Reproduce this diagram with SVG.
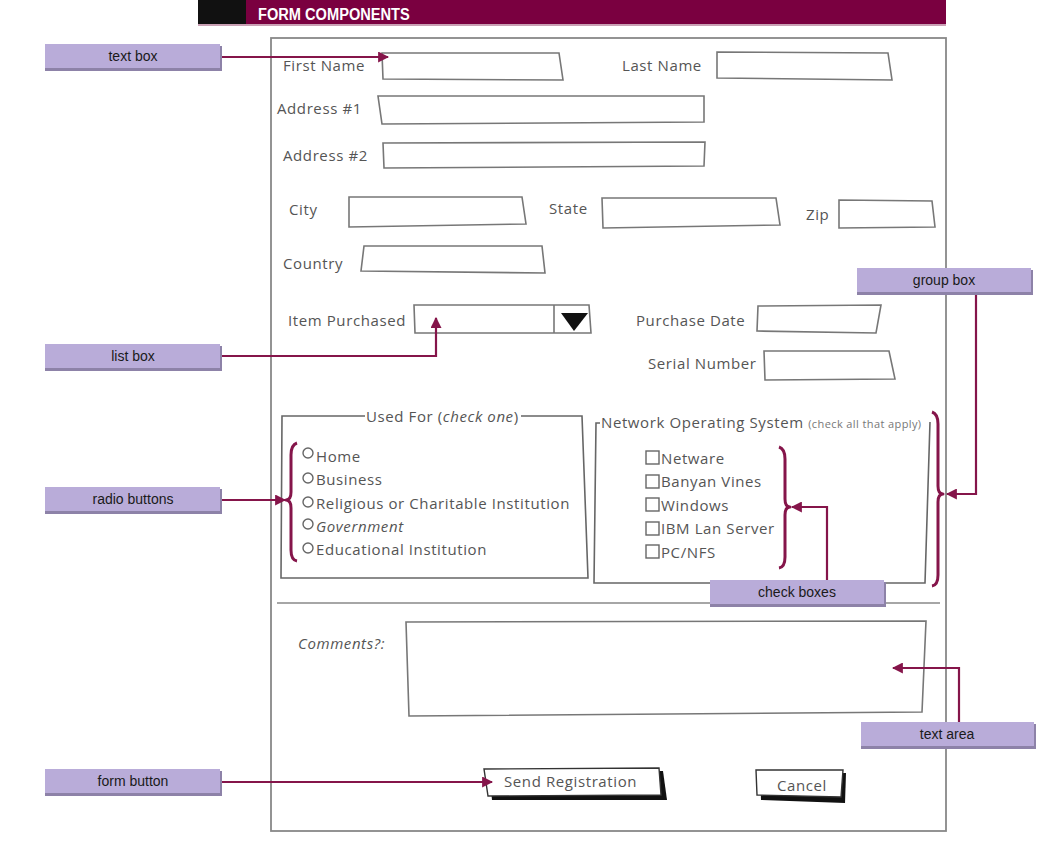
<svg xmlns="http://www.w3.org/2000/svg" width="1047" height="841" viewBox="0 0 1047 841">
<style>
.lbl{font-family:"Liberation Sans",Arial,sans-serif;font-size:14px;fill:#1a1a1a;text-anchor:middle;}
.tag{fill:#b9acd9;}
.tagsh{fill:#8d82a8;}
.ft{font-family:"Open Sans","DejaVu Sans",sans-serif;font-size:15px;letter-spacing:0.6px;fill:#555;}
.fs{font-family:"Open Sans","DejaVu Sans",sans-serif;font-size:11px;letter-spacing:0.4px;fill:#777;}
.inp{fill:#fff;stroke:#777;stroke-width:1.6;}
.con{fill:none;stroke:#85154a;stroke-width:2.2;}
.brace{fill:none;stroke:#85154a;stroke-width:3;stroke-linejoin:round;}
.grp{fill:none;stroke:#666;stroke-width:1.6;}
</style>
<defs>
<marker id="ah" viewBox="0 0 10 10" refX="9" refY="5" markerWidth="5" markerHeight="5" orient="auto" markerUnits="strokeWidth">
<path d="M0,0 L10,5 L0,10 z" fill="#85154a"/>
</marker>
</defs>
<rect width="1047" height="841" fill="#fff"/>
<g id="header">
<rect x="198" y="0" width="48" height="25" fill="#111"/>
<rect x="246" y="0" width="700" height="25" fill="#7a0040"/>
<rect x="198" y="24" width="748" height="2" fill="#c9a0b4"/>
<text x="258" y="20" font-family="Liberation Sans,Arial,sans-serif" font-weight="bold" font-size="17" fill="#fff" transform="translate(258 0) scale(0.86 1) translate(-258 0)">FORM COMPONENTS</text>
</g>
<g id="form-frame">
<rect x="271" y="38" width="675" height="793" fill="none" stroke="#888" stroke-width="1.8"/>
</g>
<g id="fields">
<text class="ft" x="283" y="71">First Name</text>
<path class="inp" d="M382,53 L559,53 L563,80 L383,79 Z"/>
<text class="ft" x="622" y="71">Last Name</text>
<path class="inp" d="M717,52 L888,53 L892,80 L717,78 Z"/>
<text class="ft" x="277" y="114">Address #1</text>
<path class="inp" d="M378,96 L704,96 L704,122 L382,124 Z"/>
<text class="ft" x="283" y="161">Address #2</text>
<path class="inp" d="M383,143 L705,142 L704,166 L384,168 Z"/>
<text class="ft" x="289" y="215">City</text>
<path class="inp" d="M349,197 L522,197 L526,224 L349,227 Z"/>
<text class="ft" x="549" y="214">State</text>
<path class="inp" d="M602,198 L776,198 L780,225 L603,228 Z"/>
<text class="ft" x="806" y="220">Zip</text>
<path class="inp" d="M839,200 L932,201 L935,227 L839,228 Z"/>
<text class="ft" x="283" y="269">Country</text>
<path class="inp" d="M364,246 L542,246 L545,273 L361,271 Z"/>
<text class="ft" x="288" y="326">Item Purchased</text>
<path class="inp" d="M414,305 L589,305 L591,333 L415,333 Z"/>
<line x1="554" y1="305" x2="554" y2="333" stroke="#777" stroke-width="1.6"/>
<path d="M561,313 L588,313 L574,331 Z" fill="#111"/>
<text class="ft" x="636" y="326">Purchase Date</text>
<path class="inp" d="M758,306 L881,305 L876,333 L757,331 Z"/>
<text class="ft" x="648" y="369">Serial Number</text>
<path class="inp" d="M764,351 L889,351 L895,379 L765,380 Z"/>
</g>
<g id="used-for-group">
<path class="grp" d="M365,416 L282,416 L281,578 L588,578 L582,416 L521,416"/>
<text class="ft" x="366" y="422">Used For (<tspan font-style="italic">check one</tspan>)</text>
<circle cx="308" cy="453" r="5" fill="#fff" stroke="#666" stroke-width="1.4"/>
<text class="ft" x="316" y="462">Home</text>
<circle cx="308" cy="478" r="5" fill="#fff" stroke="#666" stroke-width="1.4"/>
<text class="ft" x="316" y="485">Business</text>
<circle cx="308" cy="502" r="5" fill="#fff" stroke="#666" stroke-width="1.4"/>
<text class="ft" x="316" y="509">Religious or Charitable Institution</text>
<circle cx="308" cy="524" r="5" fill="#fff" stroke="#666" stroke-width="1.4"/>
<text class="ft" x="316" y="532" font-style="italic">Government</text>
<circle cx="308" cy="548" r="5" fill="#fff" stroke="#666" stroke-width="1.4"/>
<text class="ft" x="316" y="555">Educational Institution</text>
</g>
<g id="network-group">
<path class="grp" d="M600,423 L596,423 L594,583 L925,583 L930,422"/>
<text class="ft" x="601" y="428">Network Operating System <tspan class="fs">(check all that apply)</tspan></text>
<rect x="646" y="451" width="13" height="13" fill="#fff" stroke="#666" stroke-width="1.4"/>
<text class="ft" x="661" y="464">Netware</text>
<rect x="646" y="475" width="13" height="13" fill="#fff" stroke="#666" stroke-width="1.4"/>
<text class="ft" x="661" y="487">Banyan Vines</text>
<rect x="646" y="498" width="13" height="13" fill="#fff" stroke="#666" stroke-width="1.4"/>
<text class="ft" x="661" y="511">Windows</text>
<rect x="646" y="522" width="13" height="13" fill="#fff" stroke="#666" stroke-width="1.4"/>
<text class="ft" x="661" y="534">IBM Lan Server</text>
<rect x="646" y="545" width="13" height="13" fill="#fff" stroke="#666" stroke-width="1.4"/>
<text class="ft" x="661" y="558">PC/NFS</text>
</g>
<g id="separator">
<line x1="277" y1="603" x2="940" y2="603" stroke="#888" stroke-width="1.6"/>
</g>
<g id="comments">
<text class="ft" x="298" y="649" font-style="italic">Comments?:</text>
<path class="inp" d="M406,622 L926,621 L922,712 L409,716 Z"/>
</g>
<g id="buttons">
<path d="M489,772 L663,771 L667,800 L492,800 Z" fill="#111"/>
<path d="M484,769 L659,768 L661,795 L488,796 Z" fill="#fff" stroke="#333" stroke-width="1.4"/>
<text class="ft" x="504" y="787" font-size="14">Send Registration</text>
<path d="M760,774 L846,773 L845,803 L761,800 Z" fill="#111"/>
<path d="M756,770 L843,770 L841,797 L757,795 Z" fill="#fff" stroke="#333" stroke-width="1.4"/>
<text class="ft" x="777" y="791" font-size="14">Cancel</text>
</g>
<g id="connectors">
<line class="con" x1="222" y1="57" x2="388" y2="57" marker-end="url(#ah)"/>
<polyline class="con" points="222,356 436,356 436,318" marker-end="url(#ah)"/>
<line class="con" x1="222" y1="500" x2="285" y2="500" marker-end="url(#ah)"/>
<polyline class="con" points="976,294 976,494 947,494" marker-end="url(#ah)"/>
<polyline class="con" points="827,580 827,507 792,507" marker-end="url(#ah)"/>
<polyline class="con" points="959,722 959,668 893,668" marker-end="url(#ah)"/>
<line class="con" x1="222" y1="782" x2="492" y2="782" marker-end="url(#ah)"/>
<path class="brace" d="M297,443 Q291,445 291,455 L291,492 Q291,500 286,500 Q291,500 291,508 L291,550 Q291,560 297,561"/>
<path class="brace" d="M779,447 Q785,449 785,459 L785,499 Q785,507 790,507 Q785,507 785,515 L785,557 Q785,567 779,568"/>
<path class="brace" d="M932,412 Q938,414 938,424 L938,486 Q938,494 943,494 Q938,494 938,502 L938,575 Q938,585 932,586"/>
</g>
<g id="tag-text-box">
<rect class="tagsh" x="45" y="46" width="177" height="25"/>
<rect class="tag" x="45" y="44" width="175" height="24"/>
<text class="lbl" x="133" y="61">text box</text>
</g>
<g id="tag-list-box">
<rect class="tagsh" x="45" y="346" width="177" height="25"/>
<rect class="tag" x="45" y="344" width="175" height="24"/>
<text class="lbl" x="133" y="361">list box</text>
</g>
<g id="tag-radio-buttons">
<rect class="tagsh" x="45" y="489" width="177" height="25"/>
<rect class="tag" x="45" y="487" width="175" height="24"/>
<text class="lbl" x="133" y="504">radio buttons</text>
</g>
<g id="tag-form-button">
<rect class="tagsh" x="45" y="771" width="177" height="25"/>
<rect class="tag" x="45" y="769" width="175" height="24"/>
<text class="lbl" x="133" y="786">form button</text>
</g>
<g id="tag-group-box">
<rect class="tagsh" x="857" y="270" width="176" height="25"/>
<rect class="tag" x="857" y="268" width="174" height="24"/>
<text class="lbl" x="944" y="285">group box</text>
</g>
<g id="tag-check-boxes">
<rect class="tagsh" x="710" y="582" width="176" height="25"/>
<rect class="tag" x="710" y="580" width="174" height="24"/>
<text class="lbl" x="797" y="597">check boxes</text>
</g>
<g id="tag-text-area">
<rect class="tagsh" x="861" y="724" width="175" height="25"/>
<rect class="tag" x="861" y="722" width="173" height="24"/>
<text class="lbl" x="947" y="739">text area</text>
</g>
</svg>
